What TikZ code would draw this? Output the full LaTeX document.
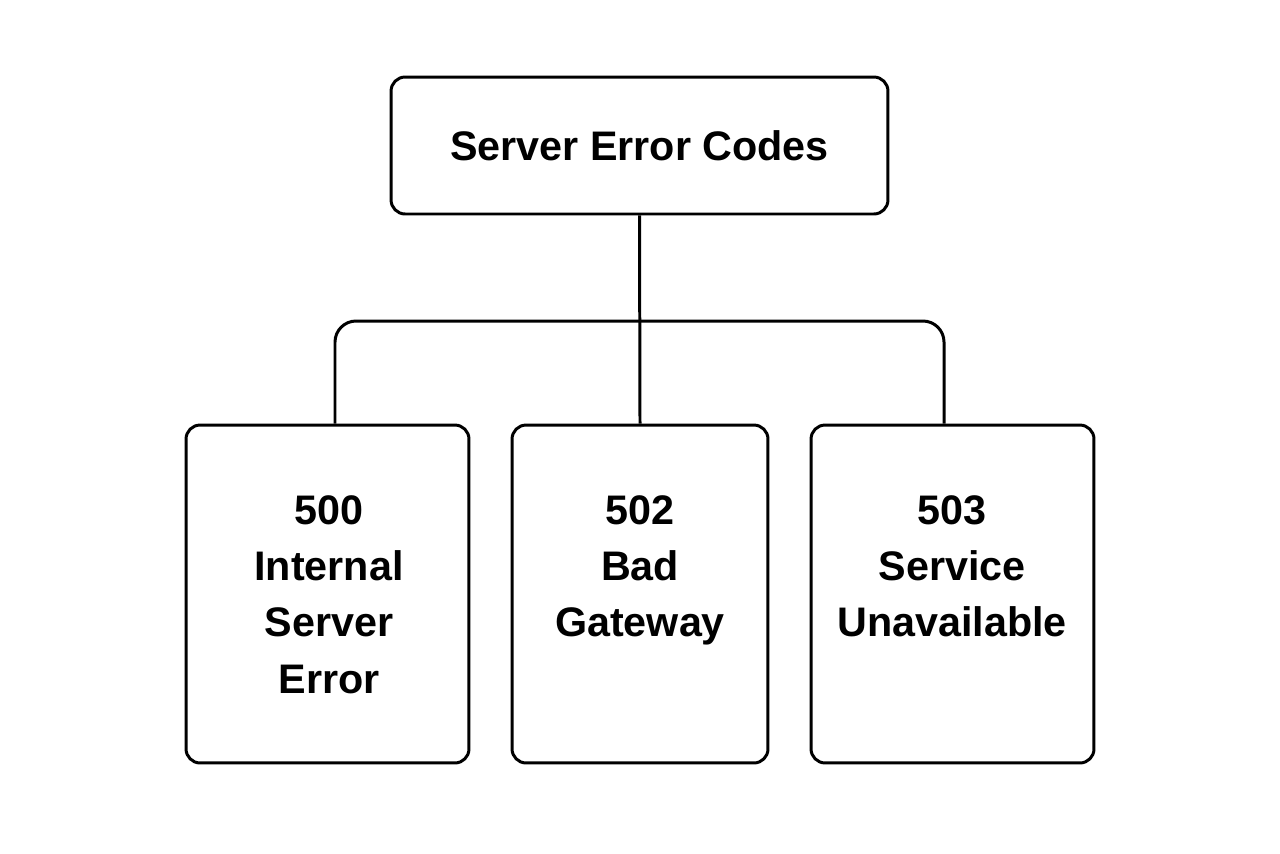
\documentclass[tikz,border=0pt]{standalone}
\usepackage{fontspec}
\setmainfont{Liberation Sans}
\usetikzlibrary{positioning}

\begin{document}
\begin{tikzpicture}[x=0.02cm,y=-0.02cm,line width=1.7pt,
    code box/.style={draw,rounded corners=8pt,align=center,
      font=\bfseries\fontsize{23.5}{32}\selectfont,inner sep=0pt},
    code text/.style={anchor=north,align=center,inner sep=0pt,
      font=\bfseries\fontsize{23.5}{32}\selectfont},
    link/.style={rounded corners=12pt}]
  \useasboundingbox (0,0) rectangle (1280,853);

  \node[code box,minimum width=9.94cm,minimum height=2.74cm] (root) at (639.5,145.5) {Server Error Codes};

  \node[code box,minimum width=5.66cm,minimum height=6.76cm] (e500) at (327.5,594) {};
  \node[code box,minimum width=5.12cm,minimum height=6.76cm] (e502) at (640,594) {};
  \node[code box,minimum width=5.66cm,minimum height=6.76cm] (e503) at (952.5,594) {};

  \node[code text] (t500) at (329,494) {500\\Internal\\Server\\Error};
  \node[code text] (t502) at (640,494) {502\\Bad\\Gateway};
  \node[code text] (t503) at (952,494) {503\\Service\\Unavailable};

  \coordinate (bar) at (640,321);
  \draw (root.south) -- (e502.north);
  \draw[link] (e500.north -| 335,0) |- (bar) -| (e503.north -| 944,0);
\end{tikzpicture}
\end{document}
